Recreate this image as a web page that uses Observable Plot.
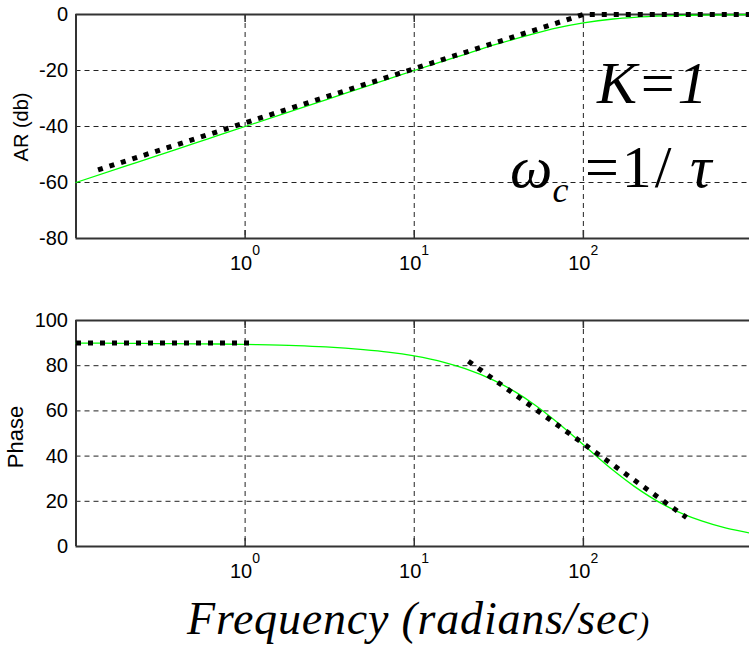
<!DOCTYPE html>
<html>
<head>
<meta charset="utf-8">
<script src="https://cdn.jsdelivr.net/npm/d3@7"></script>
<script src="https://cdn.jsdelivr.net/npm/@observablehq/plot@0.6"></script>
<style>
  html, body { margin: 0; padding: 0; background: #fff; }
  #wrap { width: 749px; height: 654px; overflow: hidden; background: #fff; }
  #wrap svg { display: block; }
</style>
</head>
<body>
<div id="wrap"></div>
<script>
// ---- data ----
const freq     = [0.1, 0.2, 0.3, 0.5, 0.7, 1, 2, 3, 5, 7, 10, 15, 20, 30, 40, 50, 70, 100, 150, 200, 300, 400, 500, 700, 960];
const arDb     = [-60, -54, -50.5, -46, -43.1, -40, -34, -30.5, -26, -23.1, -20, -16.6, -14.2, -10.8, -8.6, -7.0, -4.8, -3.0, -1.6, -1.0, -0.5, -0.3, -0.2, -0.1, -0.05];
const phaseDeg = [90, 89.9, 89.8, 89.7, 89.6, 89.4, 88.9, 88.3, 87.1, 86, 84.3, 81.5, 78.7, 73.3, 68.2, 63.4, 55, 45, 33.7, 26.6, 18.4, 14, 11.3, 8.1, 6];

const arAsymFreq = [0.135, 100, 960];
const arAsymDb   = [-55.5, 0, 0];
const phLowFreq  = [0.1, 1.07];
const phLowDeg   = [90, 90];
const phHighFreq = [20.9, 407];
const phHighDeg  = [82, 12.8];

const xTicks  = [1, 10, 100];
const arTicks = [0, -20, -40, -60, -80];
const arGrid  = [-20, -40, -60];
const phTicks = [0, 20, 40, 60, 80, 100];
const phGrid  = [20, 40, 60, 80];
const xDomain = [0.1, 960];

// ---- styling ----
const W = 749, ML = 75.5;
const tickFont = "'Liberation Sans Narrow','Arial Narrow','Liberation Sans',Arial,sans-serif";
const gridStyle = {stroke: "#222", strokeWidth: 1, strokeDasharray: "5,4"};
const frameStyle = {stroke: "#333", strokeWidth: 2};
const asymStyle = {stroke: "#000", strokeWidth: 5, strokeDasharray: "5,7", strokeLinecap: "butt"};

const zip = (a, b) => a.map((v, i) => ({f: v, v: b[i]}));

function panel(o) {
  const [yMin, yMax] = o.yDomain;
  const tickLen = (yMax - yMin) / o.plotH * 8;
  const marks = [
    Plot.ruleY(o.yGrid, gridStyle),
    Plot.ruleX(xTicks, gridStyle),
    Plot.ruleX(xTicks, {y1: yMin, y2: yMin + tickLen, stroke: "#333", strokeWidth: 1.5}),
    Plot.ruleX(xTicks, {y1: yMax, y2: yMax - tickLen, stroke: "#333", strokeWidth: 1.5}),
    Plot.ruleY([yMin, yMax], frameStyle),
    Plot.ruleX([xDomain[0]], frameStyle),
    Plot.axisY(o.yTicks, {tickSize: 0, tickPadding: 8, label: null, fontSize: 20, tickFormat: d => String(d)}),
    Plot.text(xTicks, {x: d => d, text: () => "10", frameAnchor: "bottom", lineAnchor: "top", dy: 17, dx: -4, fontSize: 20}),
    Plot.text(xTicks, {x: d => d, text: d => String(Math.round(Math.log10(d))), frameAnchor: "bottom", lineAnchor: "top", dy: 7, dx: 11, fontSize: 14}),
    Plot.line(zip(freq, o.curve), {x: "f", y: "v", stroke: "#00ff00", strokeWidth: 1.3, curve: "monotone-x"}),
    ...o.asym.map(([fx, vy]) => Plot.line(zip(fx, vy), {x: "f", y: "v", ...asymStyle}))
  ];
  return Plot.plot({
    width: W, height: o.height,
    marginLeft: ML, marginRight: 0, marginTop: o.mt, marginBottom: o.mb,
    style: {fontFamily: tickFont, fontSize: "20px", color: "#000", background: "transparent", overflow: "visible"},
    x: {type: "log", domain: xDomain, axis: null},
    y: {domain: o.yDomain},
    marks
  });
}

const topSvg = panel({
  height: 280, mt: 14, mb: 42, plotH: 224,
  yDomain: [-80, 0], yTicks: arTicks, yGrid: arGrid, curve: arDb,
  asym: [[arAsymFreq, arAsymDb]]
});
const botSvg = panel({
  height: 310, mt: 40, mb: 44, plotH: 226,
  yDomain: [0, 100], yTicks: phTicks, yGrid: phGrid, curve: phaseDeg,
  asym: [[phLowFreq, phLowDeg], [phHighFreq, phHighDeg]]
});

const wrap = document.getElementById("wrap");
wrap.appendChild(topSvg);
wrap.appendChild(botSvg);

const sans = "'Liberation Sans',Arial,sans-serif";
const serif = "'Liberation Serif','Times New Roman',serif";

function addText(svg, {x, y, text, size, family, italic, rotate, spacing}) {
  const t = d3.select(svg).append("text")
    .attr("fill", "#000")
    .attr("font-family", family).style("font-family", family)
    .attr("font-size", size).style("font-size", size + "px")
    .attr("font-style", italic ? "italic" : "normal").style("font-style", italic ? "italic" : "normal");
  if (text != null) t.text(text);
  if (spacing) t.style("letter-spacing", spacing + "px");
  if (rotate) {
    t.attr("transform", `translate(${x},${y}) rotate(${rotate})`)
     .attr("text-anchor", "middle").style("text-anchor", "middle");
  } else {
    t.attr("x", x).attr("y", y).attr("text-anchor", "start").style("text-anchor", "start");
  }
  return t;
}

// y-axis titles
addText(topSvg, {x: 28, y: 127, text: "AR (db)", size: 20, family: sans, rotate: -90});
addText(botSvg, {x: 23, y: 157, text: "Phase", size: 22, family: sans, rotate: -90});

// annotations
addText(topSvg, {x: 597, y: 103, text: "K=1", size: 60, family: serif, italic: true});
const omega = addText(topSvg, {x: 510, y: 187, size: 60, family: serif, italic: true});
omega.append("tspan").text("ω");
omega.append("tspan").attr("dy", 15).style("font-size", "36px").text("c");
addText(topSvg, {x: 585, y: 187, text: "=1/", size: 60, family: serif, spacing: 3});
addText(topSvg, {x: 690, y: 187, text: "τ", size: 60, family: serif, italic: true});

// caption
const cap = d3.select(wrap).append("svg").attr("width", W).attr("height", 64);
const ct = cap.append("text").attr("x", 187).attr("y", 44).attr("fill", "#000")
  .attr("text-anchor", "start")
  .style("font-family", serif).style("font-style", "italic").style("font-size", "46px")
  .style("letter-spacing", "0.8px");
ct.append("tspan").text("Frequency (radians/sec");
ct.append("tspan").style("font-size", "32px").text(")");
</script>
</body>
</html>
